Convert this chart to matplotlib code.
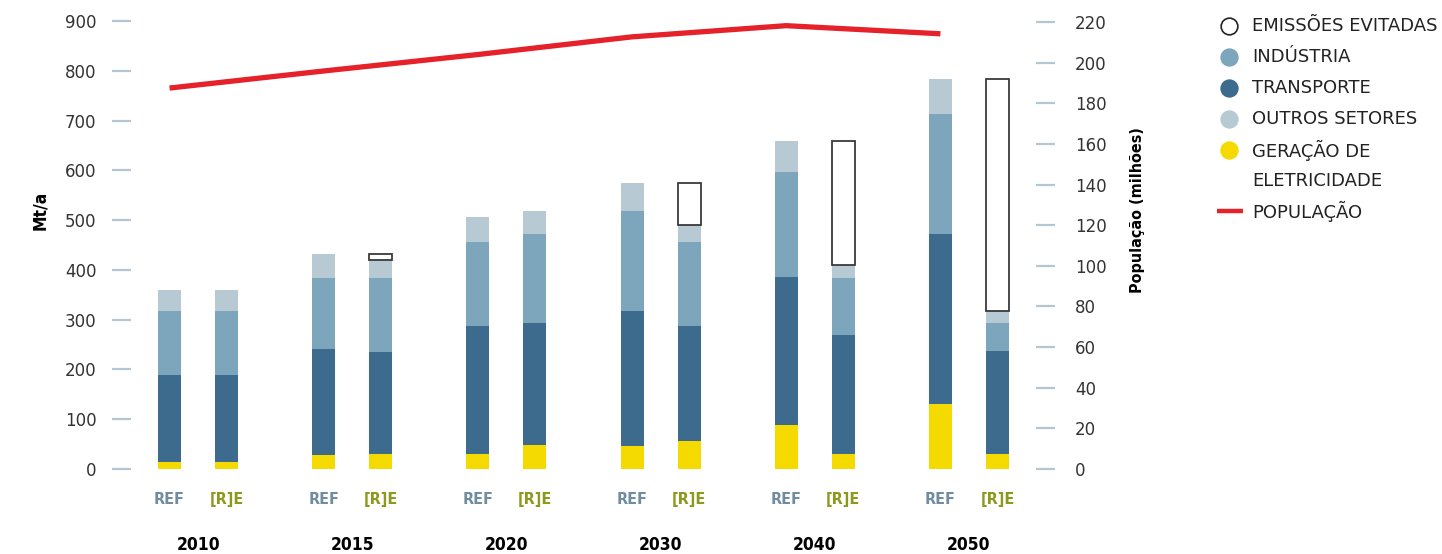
import numpy as np
import matplotlib
matplotlib.use("Agg")
import matplotlib.pyplot as plt
from matplotlib.lines import Line2D
from matplotlib.transforms import blended_transform_factory

# dados (Mt/a)
anos = ['2010', '2015', '2020', '2030', '2040', '2050']

ref_eletricidade = [15, 28, 30, 46, 88, 131]
ref_transporte = [174, 213, 257, 271, 298, 341]
ref_industria = [128, 143, 169, 201, 211, 241]
ref_outros = [43, 48, 50, 57, 62, 70]

re_eletricidade = [15, 31, 48, 56, 30, 30]
re_transporte = [174, 204, 245, 231, 239, 207]
re_industria = [128, 149, 179, 169, 115, 56]
re_outros = [43, 36, 46, 35, 26, 24]
re_evitadas = [0, 12, 0, 84, 249, 466]

populacao = [187.5, 195.9, 204.0, 212.7, 218.2, 214.2]  # milhões

c_eletr = '#f5da00'
c_transp = '#3d6b8e'
c_ind = '#7da5bc'
c_outros = '#b7c9d3'
c_pop = '#e52129'
c_tick = '#b4c6d2'

fig = plt.figure(figsize=(14.42, 5.54), dpi=100)
ax = fig.add_axes([131 / 1442, 1 - 469 / 554, 905 / 1442, 448 / 554])
ax2 = ax.twinx()

x = np.arange(len(anos))
off = 0.185
w = 0.15
x_ref = x - off
x_re = x + off


def pilha(xs, partes, cores):
    base = np.zeros(len(xs))
    for vals, cor in zip(partes, cores):
        ax.bar(xs, vals, w, bottom=base, color=cor, edgecolor='none', zorder=2)
        base = base + np.array(vals)
    return base


pilha(x_ref, [ref_eletricidade, ref_transporte, ref_industria, ref_outros],
      [c_eletr, c_transp, c_ind, c_outros])
topo_re = pilha(x_re, [re_eletricidade, re_transporte, re_industria, re_outros],
                [c_eletr, c_transp, c_ind, c_outros])
ev = np.array(re_evitadas)
mask = ev > 0
ax.bar(x_re[mask], ev[mask], w, bottom=topo_re[mask], facecolor='white',
       edgecolor='#3a3a3a', linewidth=1.3, zorder=3)

ax2.plot(x_ref, populacao, color=c_pop, lw=3.8, solid_capstyle='butt', zorder=4)

ax.set_xlim(-0.435, 5.435)
ax.set_ylim(0, 900)
ax2.set_ylim(0, 220.5)
ax.set_yticks(range(0, 901, 100))
ax2.set_yticks(range(0, 221, 20))
ax.set_xticks([])

for a in (ax, ax2):
    for s in a.spines.values():
        s.set_visible(False)
ax.tick_params(axis='y', direction='out', length=14, width=1.6, color=c_tick,
               pad=11, labelsize=12, labelcolor='#333333')
ax2.tick_params(axis='y', direction='out', length=14, width=1.6, color=c_tick,
                pad=14, labelsize=12, labelcolor='#333333')

ax.set_ylabel('Mt/a', fontsize=12.5, fontweight='bold', fontstretch='condensed')
ax.yaxis.set_label_coords(-0.091, 0.578)
ax2.set_ylabel('População (milhões)', fontsize=11.5, fontweight='bold',
               fontstretch='condensed', rotation=90)
ax2.yaxis.set_label_coords(1.104, 0.578)

tr = blended_transform_factory(ax.transData, ax.transAxes)
for i, ano in enumerate(anos):
    ax.text(x_ref[i], -0.069, 'REF', transform=tr, ha='center', va='center',
            fontsize=11.5, fontweight='bold', color='#6f8d9e', fontstretch='condensed')
    ax.text(x_re[i], -0.069, '[R]E', transform=tr, ha='center', va='center',
            fontsize=11.5, fontweight='bold', color='#8b9a1c', fontstretch='condensed')
    ax.text(x[i], -0.17, ano, transform=tr, ha='center', va='center',
            fontsize=12.5, fontweight='bold', color='black', fontstretch='condensed')

# legenda
W, H = 1442, 554
itens = [('EMISSÕES EVITADAS', 26, 'o', 'white'),
         ('INDÚSTRIA', 57, 'o', c_ind),
         ('TRANSPORTE', 88, 'o', c_transp),
         ('OUTROS SETORES', 119, 'o', c_outros),
         ('GERAÇÃO DE', 150, 'o', c_eletr),
         ('ELETRICIDADE', 181, None, None),
         ('POPULAÇÃO', 211, '-', c_pop)]
for txt, yy, mk, cor in itens:
    fy = 1 - yy / H
    if mk == 'o':
        ec = '#222222' if cor == 'white' else cor
        fig.add_artist(Line2D([1229 / W], [fy], transform=fig.transFigure, marker='o',
                              ms=12, mfc=cor, mec=ec, mew=1.2, ls='none'))
    elif mk == '-':
        fig.add_artist(Line2D([1217 / W, 1243 / W], [fy, fy], transform=fig.transFigure,
                              color=cor, lw=3.2, solid_capstyle='butt'))
    fig.text(1252 / W, fy, txt, fontsize=13, color='#222222', ha='left', va='center')

fig.savefig('out.png', dpi=100)
